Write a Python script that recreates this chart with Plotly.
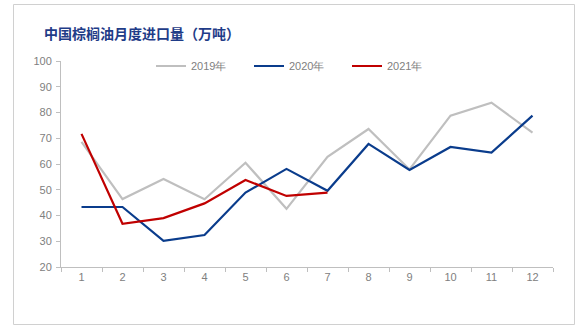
import plotly.graph_objects as go

months = ["1", "2", "3", "4", "5", "6", "7", "8", "9", "10", "11", "12"]
y2019 = [68.6, 46.4, 54.2, 46.3, 60.5, 42.6, 62.8, 73.6, 57.9, 78.8, 83.8, 72.2]
y2020 = [43.3, 43.3, 30.2, 32.4, 48.9, 58.1, 49.6, 67.8, 57.7, 66.6, 64.4, 78.8]
y2021 = [71.7, 36.8, 39.0, 44.7, 53.8, 47.6, 48.9]
names = ["2019年", "2020年", "2021年"]
colors = ["#BFBFBF", "#0A3C8C", "#C00000"]
title = "中国棕榈油月度进口量（万吨）"
yticks = [20, 30, 40, 50, 60, 70, 80, 90, 100]

W, H = 588, 333
L, R, T, B = 61, 35, 61, 66
pw, ph = W - L - R, H - T - B

def px2x(p):
    return (p - L) / pw

def py2y(p):
    return (H - B - p) / ph

fig = go.Figure()
for name, vals, c in zip(names, [y2019, y2020, y2021], colors):
    fig.add_trace(go.Scatter(x=months[:len(vals)], y=vals, name=name, mode="lines",
                             line=dict(color=c, width=2.2)))

axis_font = dict(family="Liberation Sans, Arial, sans-serif", size=11, color="#808080")
fig.update_layout(
    width=W, height=H,
    margin=dict(l=L, r=R, t=T, b=B, autoexpand=False),
    paper_bgcolor="white", plot_bgcolor="white",
    showlegend=True,
    legend=dict(orientation="h", x=px2x(151), xanchor="left", y=py2y(66), yanchor="middle",
                font=dict(family="Liberation Sans, Arial, sans-serif", size=11, color="#808080"),
                entrywidth=53, entrywidthmode="pixels", bgcolor="rgba(0,0,0,0)"),
    xaxis=dict(type="category", range=[-0.5, 11.5], tickson="boundaries", ticks="outside",
               ticklen=4, tickcolor="#BFBFBF", showline=True, linecolor="#BFBFBF", linewidth=1,
               showgrid=False, zeroline=False, tickfont=axis_font, fixedrange=True),
    yaxis=dict(range=[20, 100], tickvals=yticks, ticks="outside", ticklen=4, tickcolor="#BFBFBF",
               showline=True, linecolor="#BFBFBF", linewidth=1, showgrid=False, zeroline=False,
               tickfont=axis_font, ticklabelstandoff=2),
    annotations=[dict(text="<b>" + title + "</b>", xref="paper", yref="paper",
                      x=px2x(42), y=py2y(33), xanchor="left", yanchor="middle", showarrow=False,
                      font=dict(family="Noto Sans CJK SC", size=14, color="#1F3C88"))],
    shapes=[dict(type="rect", xref="paper", yref="paper",
                 x0=px2x(13.5), x1=px2x(574.5), y0=py2y(324.5), y1=py2y(4.5),
                 line=dict(color="#D0D0D0", width=1), layer="below")],
)
fig.write_html("out.html")
